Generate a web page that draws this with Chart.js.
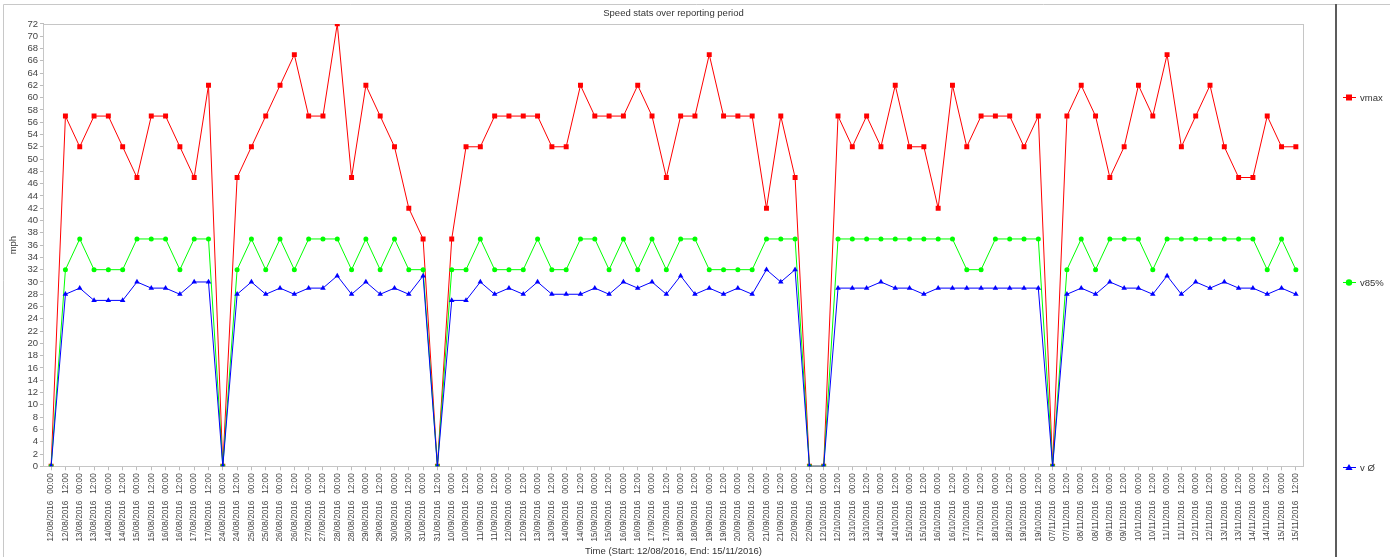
<!DOCTYPE html>
<html>
<head>
<meta charset="utf-8">
<title>Speed stats over reporting period</title>
<script src="https://cdn.jsdelivr.net/npm/chart.js@4.4.1/dist/chart.umd.min.js"></script>
<style>
  html, body { margin: 0; padding: 0; background: #fff; }
</style>
</head>
<body>
<canvas id="speedChart" width="1390" height="557"></canvas>
<script>
// x categories (12h buckets of the reporting period)
const categories = [
  '12/08/2016 00:00', '12/08/2016 12:00', '13/08/2016 00:00', '13/08/2016 12:00', '14/08/2016 00:00', '14/08/2016 12:00',
  '15/08/2016 00:00', '15/08/2016 12:00', '16/08/2016 00:00', '16/08/2016 12:00', '17/08/2016 00:00', '17/08/2016 12:00',
  '24/08/2016 00:00', '24/08/2016 12:00', '25/08/2016 00:00', '25/08/2016 12:00', '26/08/2016 00:00', '26/08/2016 12:00',
  '27/08/2016 00:00', '27/08/2016 12:00', '28/08/2016 00:00', '28/08/2016 12:00', '29/08/2016 00:00', '29/08/2016 12:00',
  '30/08/2016 00:00', '30/08/2016 12:00', '31/08/2016 00:00', '31/08/2016 12:00',
  '10/09/2016 00:00', '10/09/2016 12:00', '11/09/2016 00:00', '11/09/2016 12:00', '12/09/2016 00:00', '12/09/2016 12:00',
  '13/09/2016 00:00', '13/09/2016 12:00', '14/09/2016 00:00', '14/09/2016 12:00', '15/09/2016 00:00', '15/09/2016 12:00',
  '16/09/2016 00:00', '16/09/2016 12:00', '17/09/2016 00:00', '17/09/2016 12:00', '18/09/2016 00:00', '18/09/2016 12:00',
  '19/09/2016 00:00', '19/09/2016 12:00', '20/09/2016 00:00', '20/09/2016 12:00', '21/09/2016 00:00', '21/09/2016 12:00',
  '22/09/2016 00:00', '22/09/2016 12:00',
  '12/10/2016 00:00', '12/10/2016 12:00', '13/10/2016 00:00', '13/10/2016 12:00', '14/10/2016 00:00', '14/10/2016 12:00',
  '15/10/2016 00:00', '15/10/2016 12:00', '16/10/2016 00:00', '16/10/2016 12:00', '17/10/2016 00:00', '17/10/2016 12:00',
  '18/10/2016 00:00', '18/10/2016 12:00', '19/10/2016 00:00', '19/10/2016 12:00',
  '07/11/2016 00:00', '07/11/2016 12:00', '08/11/2016 00:00', '08/11/2016 12:00', '09/11/2016 00:00', '09/11/2016 12:00',
  '10/11/2016 00:00', '10/11/2016 12:00', '11/11/2016 00:00', '11/11/2016 12:00', '12/11/2016 00:00', '12/11/2016 12:00',
  '13/11/2016 00:00', '13/11/2016 12:00', '14/11/2016 00:00', '14/11/2016 12:00', '15/11/2016 00:00', '15/11/2016 12:00'
];

// speeds in mph
const vmax = [
  0, 57, 52, 57, 57, 52, 47, 57, 57, 52, 47, 62,
  0, 47, 52, 57, 62, 67, 57, 57, 72, 47, 62, 57, 52, 42, 37, 0,
  37, 52, 52, 57, 57, 57, 57, 52, 52, 62, 57, 57, 57, 62, 57, 47, 57, 57, 67, 57, 57, 57, 42, 57, 47, 0,
  0, 57, 52, 57, 52, 62, 52, 52, 42, 62, 52, 57, 57, 57, 52, 57,
  0, 57, 62, 57, 47, 52, 62, 57, 67, 52, 57, 62, 52, 47, 47, 57, 52, 52
];
const v85 = [
  0, 32, 37, 32, 32, 32, 37, 37, 37, 32, 37, 37,
  0, 32, 37, 32, 37, 32, 37, 37, 37, 32, 37, 32, 37, 32, 32, 0,
  32, 32, 37, 32, 32, 32, 37, 32, 32, 37, 37, 32, 37, 32, 37, 32, 37, 37, 32, 32, 32, 32, 37, 37, 37, 0,
  0, 37, 37, 37, 37, 37, 37, 37, 37, 37, 32, 32, 37, 37, 37, 37,
  0, 32, 37, 32, 37, 37, 37, 32, 37, 37, 37, 37, 37, 37, 37, 32, 37, 32
];
const vAvg = [
  0, 28, 29, 27, 27, 27, 30, 29, 29, 28, 30, 30,
  0, 28, 30, 28, 29, 28, 29, 29, 31, 28, 30, 28, 29, 28, 31, 0,
  27, 27, 30, 28, 29, 28, 30, 28, 28, 28, 29, 28, 30, 29, 30, 28, 31, 28, 29, 28, 29, 28, 32, 30, 32, 0,
  0, 29, 29, 29, 30, 29, 29, 28, 29, 29, 29, 29, 29, 29, 29, 29,
  0, 28, 29, 28, 30, 29, 29, 28, 31, 28, 30, 29, 30, 29, 29, 28, 29, 28
];

const yMin = 0, yMax = 72, yStep = 2;

Chart.defaults.font.family = "'Liberation Sans', Arial, sans-serif";
Chart.defaults.color = '#444';

// frame, plot border and the spread-out legend on the right
const panelPlugin = {
  id: 'panel',
  beforeDraw(chart) {
    const {ctx, width, height} = chart;
    ctx.save();
    ctx.fillStyle = '#fff';
    ctx.fillRect(0, 0, width, height);
    ctx.restore();
  },
  beforeDatasetsDraw(chart) {
    const {ctx, chartArea: a} = chart;
    ctx.save();
    ctx.strokeStyle = '#c6c6c6';
    ctx.lineWidth = 1;
    ctx.strokeRect(Math.round(a.left) - 0.5, Math.round(a.top) + 0.5,
      Math.round(a.right - a.left) + 1, Math.round(a.bottom - a.top));
    ctx.restore();
  },
  afterDraw(chart) {
    const {ctx, width, height, chartArea: a} = chart;
    const divX = Math.round(a.right) + 33;
    ctx.save();
    ctx.strokeStyle = '#c8c8c8';
    ctx.lineWidth = 1;
    ctx.beginPath();
    ctx.moveTo(3.5, height);
    ctx.lineTo(3.5, 4.5);
    ctx.lineTo(width, 4.5);
    ctx.stroke();
    ctx.strokeStyle = '#5c5c5c';
    ctx.lineWidth = 2;
    ctx.beginPath();
    ctx.moveTo(divX, 4);
    ctx.lineTo(divX, height);
    ctx.stroke();

    const legendTop = 97, legendGap = 185;
    ctx.font = "9.5px 'Liberation Sans', Arial, sans-serif";
    ctx.textBaseline = 'middle';
    chart.data.datasets.forEach((ds, i) => {
      const y = legendTop + i * legendGap;
      const x0 = divX + 7, cx = divX + 13;
      ctx.strokeStyle = ds.borderColor;
      ctx.fillStyle = ds.borderColor;
      ctx.lineWidth = 1;
      ctx.beginPath();
      ctx.moveTo(x0, y + 0.5);
      ctx.lineTo(x0 + 13, y + 0.5);
      ctx.stroke();
      ctx.beginPath();
      if (ds.pointStyle === 'rect') {
        ctx.rect(cx - 3, y - 2.5, 6, 6);
      } else if (ds.pointStyle === 'circle') {
        ctx.arc(cx, y + 0.5, 3.2, 0, Math.PI * 2);
      } else {
        ctx.moveTo(cx, y - 3);
        ctx.lineTo(cx + 3.6, y + 3);
        ctx.lineTo(cx - 3.6, y + 3);
        ctx.closePath();
      }
      ctx.fill();
      ctx.fillStyle = '#333';
      ctx.fillText(ds.label, x0 + 17, y + 1);
    });
    ctx.restore();
  }
};

const ctx = document.getElementById('speedChart').getContext('2d');
const speedChart = new Chart(ctx, {
  type: 'line',
  data: {
    labels: categories,
    datasets: [
      {
        label: 'vmax', data: vmax, order: 2,
        borderColor: '#ff0000', backgroundColor: '#ff0000',
        borderWidth: 1, pointStyle: 'rect', pointRadius: 3.5, pointBorderWidth: 0
      },
      {
        label: 'v85%', data: v85, order: 1,
        borderColor: '#00ff00', backgroundColor: '#00ff00',
        borderWidth: 1, pointStyle: 'circle', pointRadius: 2.5, pointBorderWidth: 0
      },
      {
        label: 'v Ø', data: vAvg, order: 0,
        borderColor: '#0000ff', backgroundColor: '#0000ff',
        borderWidth: 1, pointStyle: 'triangle', pointRadius: 3.2, pointBorderWidth: 0
      }
    ]
  },
  options: {
    responsive: false,
    animation: false,
    devicePixelRatio: 1,
    layout: { padding: { top: 4, left: 4, right: 87, bottom: 0 } },
    elements: { line: { tension: 0 } },
    plugins: {
      legend: { display: false },
      tooltip: { enabled: false },
      title: {
        display: true,
        fullSize: false,
        text: 'Speed stats over reporting period',
        color: '#333',
        font: { size: 9.5, weight: 'normal' },
        padding: { top: 4, bottom: 4.5 }
      }
    },
    scales: {
      x: {
        type: 'category',
        offset: true,
        border: { display: false },
        grid: { display: true, drawOnChartArea: false, drawTicks: true, tickLength: 4, color: '#bdbdbd' },
        ticks: {
          autoSkip: false, minRotation: 90, maxRotation: 90, padding: 3,
          color: '#444', font: { size: 8.2 },
          callback: (v, i) => categories[i].replace(' ', '   ')
        },
        title: {
          display: true, text: 'Time (Start: 12/08/2016, End: 15/11/2016)',
          color: '#333', font: { size: 9.5 }, padding: { top: 1, bottom: 0 }
        }
      },
      y: {
        min: yMin, max: yMax,
        border: { display: false },
        grid: { display: true, drawOnChartArea: false, drawTicks: true, tickLength: 4, color: '#bdbdbd' },
        ticks: { stepSize: yStep, autoSkip: false, padding: 2, color: '#444', font: { size: 9.5 } },
        title: {
          display: true, text: 'mph', color: '#333',
          font: { size: 9.5 }, padding: { top: 4, bottom: 6 }
        }
      }
    }
  },
  plugins: [panelPlugin]
});
</script>
</body>
</html>
